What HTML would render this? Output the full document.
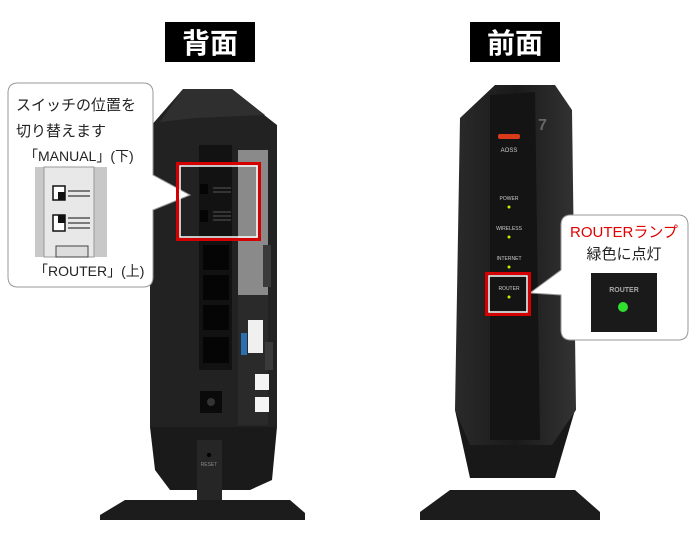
<!DOCTYPE html>
<html><head><meta charset="utf-8"><style>
body{margin:0;background:#fff;width:700px;height:550px;overflow:hidden}
svg{display:block}
</style></head><body>
<svg width="700" height="550" viewBox="0 0 700 550" xmlns="http://www.w3.org/2000/svg" font-family="'Liberation Sans','Noto Sans CJK JP',sans-serif">
<defs>
<linearGradient id="g1" x1="0" x2="1"><stop offset="0" stop-color="#2a2a2a"/><stop offset="0.5" stop-color="#1a1a1a"/><stop offset="1" stop-color="#333"/></linearGradient>
</defs>
<rect x="165" y="22" width="90" height="40" fill="#000"/>
<text x="210" y="53" font-size="28" font-weight="bold" fill="#fff" text-anchor="middle">背面</text>
<rect x="470" y="22" width="90" height="40" fill="#000"/>
<text x="515" y="53" font-size="28" font-weight="bold" fill="#fff" text-anchor="middle">前面</text>

<!-- back unit -->
<path d="M100,515 L125,500 L290,500 L305,513 L305,520 L100,520Z" fill="#1c1c1c"/>
<path d="M150,127 L183,89 L232,89 L268,118 L277,125 L277,427 L150,427Z" fill="#222"/>
<path d="M183,89 L232,89 L265,115 L195,118 L160,122Z" fill="#2f2f2f"/>
<path d="M150,427 L277,427 L272,480 L250,490 L170,490 L155,470Z" fill="#1a1a1a"/>
<path d="M197,440 L222,440 L222,500 L197,500Z" fill="#262626"/>
<circle cx="209" cy="455" r="2" fill="#000"/>
<text x="209" y="466" font-size="5" fill="#888" text-anchor="middle">RESET</text>
<path d="M199,145 L232,145 L232,370 L199,370Z" fill="#121212"/>
<rect x="238" y="150" width="30" height="145" fill="#8a8a8a"/>
<rect x="238" y="295" width="30" height="130" fill="#2a2a2a"/>
<rect x="203" y="245" width="26" height="25" fill="#050505"/>
<rect x="203" y="275" width="26" height="25" fill="#050505"/>
<rect x="203" y="305" width="26" height="25" fill="#050505"/>
<rect x="203" y="337" width="26" height="26" fill="#050505"/>
<rect x="248" y="320" width="15" height="33" fill="#f0f0f0"/>
<rect x="241" y="333" width="6" height="22" fill="#2a6fb0"/>
<rect x="255" y="374" width="14" height="16" fill="#f4f4f4"/>
<rect x="255" y="397" width="14" height="15" fill="#f4f4f4"/>
<rect x="200" y="391" width="22" height="22" fill="#0a0a0a"/>
<circle cx="211" cy="402" r="4" fill="#333"/>
<rect x="263" y="245" width="8" height="42" fill="#3a3a3a"/>
<rect x="265" y="342" width="8" height="28" fill="#3a3a3a"/>

<!-- front unit -->
<path d="M420,512 L450,490 L575,490 L600,512 L600,520 L420,520Z" fill="#1c1c1c"/>
<path d="M455,410 L575,410 L555,478 L470,478Z" fill="#181818"/>
<path d="M460,118 L495,85 L555,85 L572,110 L576,410 L552,445 L470,445 L455,410Z" fill="url(#g1)"/>
<path d="M490,95 L535,92 L540,440 L490,440Z" fill="#141414"/>
<rect x="498" y="134" width="22" height="5" rx="2" fill="#d83a1a"/>
<text x="509" y="152" font-size="6" fill="#ccc" text-anchor="middle">AOSS</text>
<text x="509" y="200" font-size="5" fill="#ccc" text-anchor="middle">POWER</text>
<circle cx="509" cy="207" r="1.5" fill="#cde600"/>
<text x="509" y="230" font-size="5" fill="#ccc" text-anchor="middle">WIRELESS</text>
<circle cx="509" cy="237" r="1.5" fill="#cde600"/>
<text x="509" y="260" font-size="5" fill="#ccc" text-anchor="middle">INTERNET</text>
<circle cx="509" cy="267" r="1.5" fill="#cde600"/>
<text x="509" y="290" font-size="5" fill="#ccc" text-anchor="middle">ROUTER</text>
<circle cx="509" cy="297" r="1.5" fill="#cde600"/>
<text x="538" y="130" font-size="16" font-weight="bold" fill="#666">7</text>

<!-- left callout -->
<path d="M18,83 L143,83 Q153,83 153,93 L153,175 L190,195 L153,210 L153,277 Q153,287 143,287 L18,287 Q8,287 8,277 L8,93 Q8,83 18,83Z" fill="#fff" stroke="#999" stroke-width="1"/>
<rect x="177.5" y="163.5" width="82" height="76" fill="none" stroke="#d40000" stroke-width="3"/>
<rect x="180" y="166" width="77" height="71" fill="none" stroke="#fff" stroke-width="1.5"/>
<rect x="200" y="184" width="8" height="10" fill="#050505"/>
<rect x="200" y="210" width="8" height="12" fill="#050505"/>
<path d="M213,188h18M213,192h18M213,212h18M213,216h18M213,220h18" stroke="#555" stroke-width="1"/>
<text x="16" y="110" font-size="15" fill="#222">スイッチの位置を</text>
<text x="16" y="136" font-size="15" fill="#222">切り替えます</text>
<text x="24" y="161" font-size="14" fill="#222">「MANUAL」(下)</text>
<rect x="35" y="167" width="72" height="90" fill="#c8c8c8"/>
<rect x="44" y="167" width="50" height="90" fill="#e8e8e8" stroke="#999"/>
<rect x="53" y="186" width="12" height="14" fill="#fff" stroke="#111" stroke-width="1.5"/>
<rect x="58" y="192" width="7" height="8" fill="#111"/>
<rect x="53" y="215" width="12" height="16" fill="#fff" stroke="#111" stroke-width="1.5"/>
<rect x="58" y="215" width="7" height="8" fill="#111"/>
<path d="M68,191h22M68,196h22M68,218h22M68,223h22M68,228h22" stroke="#555" stroke-width="1.5"/>
<rect x="56" y="246" width="32" height="11" fill="#ddd" stroke="#444"/>
<text x="34" y="276" font-size="14" fill="#222">「ROUTER」(上)</text>

<!-- right callout -->
<path d="M571,215 L678,215 Q688,215 688,225 L688,330 Q688,340 678,340 L571,340 Q561,340 561,330 L561,295 L530,293 L561,270 L561,225 Q561,215 571,215Z" fill="#fff" stroke="#999" stroke-width="1"/>
<rect x="486.5" y="273.5" width="43" height="41" fill="none" stroke="#d40000" stroke-width="3"/>
<rect x="489" y="276" width="38" height="36" fill="none" stroke="#fff" stroke-width="1.5"/>
<text x="624" y="237" font-size="15" fill="#e00000" text-anchor="middle">ROUTERランプ</text>
<text x="624" y="259" font-size="15" fill="#222" text-anchor="middle">緑色に点灯</text>
<rect x="591" y="273" width="66" height="59" fill="#1a1a1a"/>
<text x="624" y="292" font-size="7" fill="#aaa" text-anchor="middle" font-weight="bold">ROUTER</text>
<circle cx="623" cy="307" r="5" fill="#2fe02f"/>
</svg>
</body></html>
